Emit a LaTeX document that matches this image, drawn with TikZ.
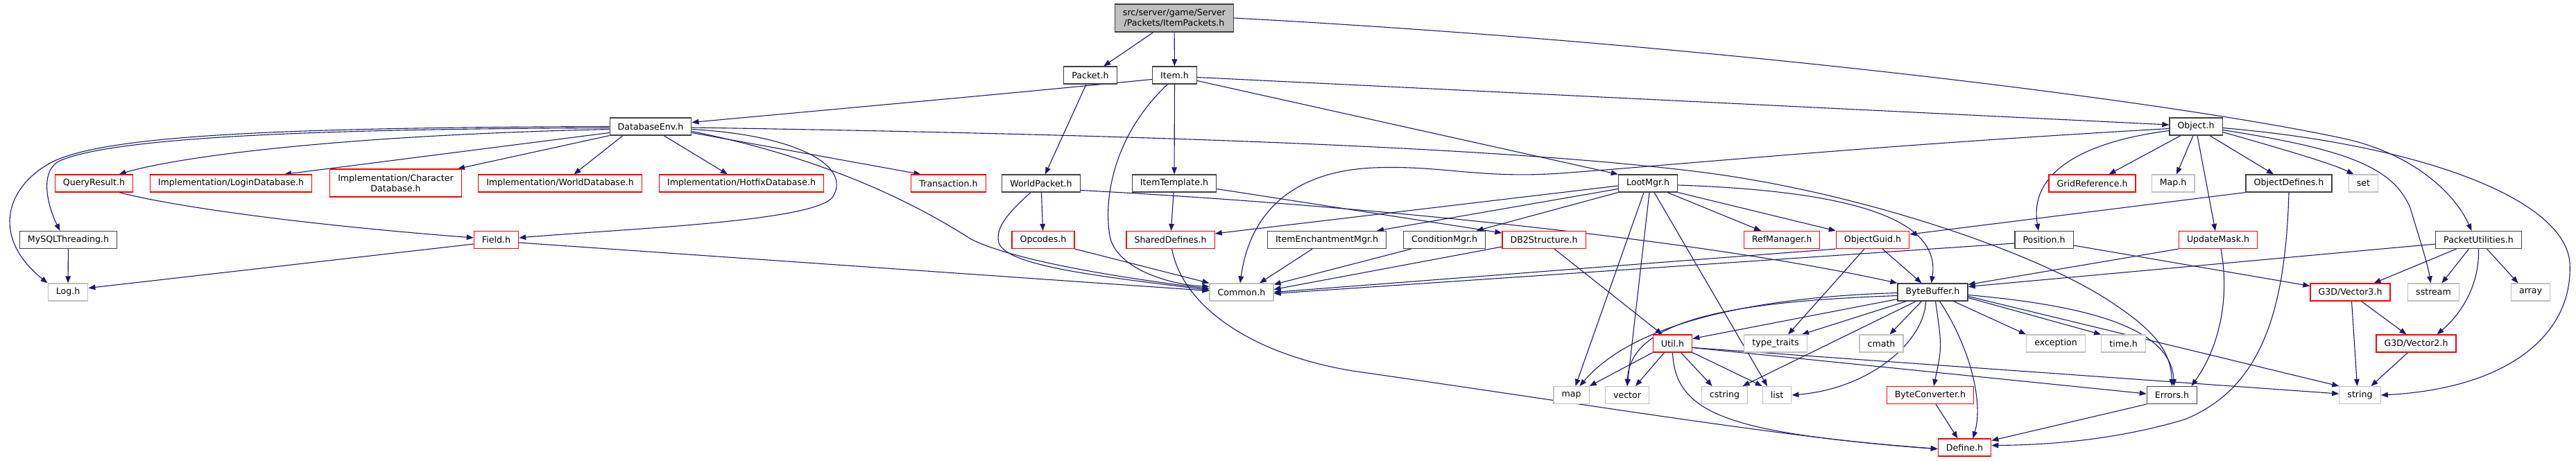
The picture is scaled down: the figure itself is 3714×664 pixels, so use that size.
\documentclass[tikz,border=0pt]{standalone}
\usepackage{fontspec}
\setmainfont{DejaVu Sans}
\usetikzlibrary{arrows.meta}
\definecolor{edgec}{HTML}{191970}
\definecolor{nblack}{HTML}{404040}
\definecolor{ngray}{HTML}{BFBFBF}
\definecolor{nred}{HTML}{FF0000}
\pgfdeclarelayer{edgelayer}
\pgfsetlayers{edgelayer,main}
\begin{document}
\begin{tikzpicture}[x=0.5pt,y=-0.5pt,
 base/.style={rectangle, draw, fill=white, line width=0.6pt, inner xsep=5.8pt, inner ysep=0pt, minimum height=12.5pt, font=\fontsize{6.3pt}{7.6pt}\selectfont, align=center, text=black},
 nb/.style={base, draw=nblack},
 nr/.style={base, draw=nred},
 ng/.style={base, draw=ngray},
 e/.style={draw=edgec, line width=0.55pt, -{Triangle[length=5pt,width=3.8pt]}},
]
\useasboundingbox (0,0) rectangle (3714,664);
% row 0-2
\node[nb,fill=ngray,minimum height=20pt] (top) at (1693,26) {src/server/game/Server\\/Packets/ItemPackets.h};
\node[nb] (packet) at (1572,108.5) {Packet.h};
\node[nb] (item) at (1693.5,108.5) {Item.h};
\node[nb] (dbenv) at (938,182.5) {DatabaseEnv.h};
\node[nb] (obj) at (3166,182.5) {Object.h};
% row 3
\node[nr] (qr) at (135.5,264.5) {QueryResult.h};
\node[nr] (login) at (333,264.5) {Implementation/LoginDatabase.h};
\node[nr,minimum height=20pt] (charac) at (570.5,264) {Implementation/Character\\Database.h};
\node[nr] (worlddb) at (807.5,264.5) {Implementation/WorldDatabase.h};
\node[nr] (hotfix) at (1069,264.5) {Implementation/HotfixDatabase.h};
\node[nr] (trans) at (1367.5,264.5) {Transaction.h};
\node[nb] (wp) at (1501,264.5) {WorldPacket.h};
\node[nb] (itpl) at (1693,264.5) {ItemTemplate.h};
\node[nb] (loot) at (2376,264.5) {LootMgr.h};
\node[nr] (gridref) at (3016.5,264.5) {GridReference.h};
\node[ng] (maph) at (3133,264.5) {Map.h};
\node[nb] (objdef) at (3300,264.5) {ObjectDefines.h};
\node[ng] (setn) at (3407.5,264.5) {set};
% row 4
\node[nb] (mysql) at (98.5,346) {MySQLThreading.h};
\node[nr] (field) at (715.5,346) {Field.h};
\node[nr] (opc) at (1504,346) {Opcodes.h};
\node[nr] (sd) at (1687.5,346) {SharedDefines.h};
\node[nb] (iem) at (1913,346) {ItemEnchantmentMgr.h};
\node[nb] (cond) at (2082.5,346) {ConditionMgr.h};
\node[nr] (db2) at (2226,346) {DB2Structure.h};
\node[nr] (ref) at (2569,346) {RefManager.h};
\node[nr] (og) at (2700,346) {ObjectGuid.h};
\node[nb] (pos) at (2947,346) {Position.h};
\node[nr] (um) at (3198,346) {UpdateMask.h};
\node[nb] (pu) at (3573.5,346) {PacketUtilities.h};
% row 5
\node[ng] (logh) at (98,421.5) {Log.h};
\node[ng] (common) at (1790,421.5) {Common.h};
\node[nb] (bb) at (2786.5,421.5) {ByteBuffer.h};
\node[nr] (vthree) at (3388.5,421.5) {G3D/Vector3.h};
\node[ng] (sstr) at (3508.5,421.5) {sstream};
\node[ng] (arr) at (3648.5,421.5) {array};
% row 6
\node[nr] (util) at (2411.5,495.5) {Util.h};
\node[ng] (tt) at (2560,495.5) {type\_traits};
\node[ng] (cmath) at (2712.5,495.5) {cmath};
\node[ng] (exc) at (2964,495.5) {exception};
\node[ng] (timeh) at (3061.5,495.5) {time.h};
\node[nr] (vtwo) at (3483.5,495.5) {G3D/Vector2.h};
% row 7
\node[ng] (mapn) at (2265.5,570) {map};
\node[ng] (vec) at (2346,570) {vector};
\node[ng] (cstr) at (2486.5,570) {cstring};
\node[ng] (listn) at (2562,570) {list};
\node[nr] (bconv) at (2783,570) {ByteConverter.h};
\node[nb] (errs) at (3131.5,570) {Errors.h};
\node[ng] (strn) at (3402.5,570) {string};
% row 8
\node[nr] (define) at (2832.5,645.5) {Define.h};

\begin{pgfonlayer}{edgelayer}
\draw[e] (top) -- (packet);
\draw[e] (top) -- (item);
\draw[e] (top.east) .. controls (2500,65) and (3150,150) .. (3380,200) .. controls (3480,222) and (3540,280) .. ([xshift=-5pt]pu.north);
\draw[e] (packet) -- (wp);
\draw[e] ([yshift=-3pt]item.west) .. controls (1450,135) .. ([yshift=3pt]dbenv.east);
\draw[e] ([yshift=-1.5pt]item.east) -- ([yshift=1.25pt]obj.west);
\draw[e] ([yshift=-4pt]item.east) -- (loot.north west);
\draw[e] (item) -- (itpl);
\draw[e] ([xshift=-5pt]item.south) .. controls (1610,190) and (1590,280) .. (1600,340) .. controls (1608,385) and (1680,410) .. ([yshift=4pt]common.west);
% DatabaseEnv
\draw[e] (dbenv.west) .. controls (400,184) and (140,195) .. (69,237) .. controls (5,275) and (-10,345) .. (logh.north west);
\draw[e] ([yshift=-1pt]dbenv.west) .. controls (420,186) and (160,200) .. (86,232) .. controls (55,248) and (70,300) .. ([xshift=-6pt]mysql.north);
\draw[e] ([yshift=-2pt]dbenv.west) .. controls (500,195) and (260,225) .. ([xshift=18pt]qr.north);
\draw[e] ([yshift=-4.5pt]dbenv.west) -- ([xshift=38.5pt]login.north);
\draw[e] (dbenv.south west) -- ([xshift=-3pt]charac.north east);
\draw[e] ([xshift=-20pt]dbenv.south) -- ([xshift=10pt]worlddb.north);
\draw[e] ([xshift=9.5pt]dbenv.south) -- ([xshift=-10pt]hotfix.north);
\draw[e] ([yshift=-4.5pt]dbenv.east) -- ([xshift=-20pt]trans.north);
\draw[e] ([yshift=-0.75pt]dbenv.east) .. controls (1700,195) and (2200,215) .. (2466,250) .. controls (2700,282) and (2950,370) .. (3050,440) .. controls (3110,480) and (3130,510) .. (errs.north);
\draw[e] ([yshift=-2pt]dbenv.east) .. controls (1150,195) and (1230,240) .. (1200,285) .. controls (1170,320) and (900,330) .. ([yshift=1.5pt]field.east);
\draw[e] ([yshift=-3.5pt]dbenv.east) .. controls (1200,230) and (1330,300) .. (1400,345) .. controls (1470,380) and (1650,405) .. ([yshift=2.5pt]common.west);
% row 3/4 left
\draw[e] ([xshift=18pt]qr.south) .. controls (260,300) and (450,325) .. ([yshift=1.5pt]field.west);
\draw[e] ([yshift=-3pt]field.west) -- ([yshift=3pt]logh.east);
\draw[e] ([yshift=-2pt]field.east) -- ([yshift=1pt]common.west);
\draw[e] (mysql) -- (logh);
\draw[e] (wp) -- (opc);
\draw[e] ([xshift=-7.5pt]wp.south) .. controls (1450,310) and (1435,330) .. (1440,350) .. controls (1450,385) and (1600,400) .. ([yshift=1.5pt]common.west);
\draw[e] ([yshift=-5pt]wp.east) .. controls (1950,295) and (2450,345) .. (bb.north west);
\draw[e] (itpl) -- (sd);
\draw[e] ([yshift=-4pt]itpl.east) -- ([yshift=5pt]db2.west);
\draw[e] (opc.south east) -- (common.north west);
\draw[e] ([xshift=1pt]sd.south) .. controls (1705,440) and (1800,510) .. (1950,535) .. controls (2300,585) and (2600,635) .. ([yshift=-1pt]define.west);
% LootMgr
\draw[e] ([yshift=-1.75pt]loot.west) -- ([yshift=4.5pt]sd.east);
\draw[e] ([yshift=-4pt]loot.west) -- ([xshift=36pt]iem.north);
\draw[e] (loot.south west) -- ([xshift=23pt]cond.north);
\draw[e] ([xshift=14pt]loot.south) -- ([xshift=-15pt]ref.north);
\draw[e] (loot.south east) -- (og.north west);
\draw[e] ([yshift=-1.25pt]loot.east) .. controls (2650,275) and (2800,310) .. ([xshift=-1pt]bb.north);
\draw[e] ([xshift=-3pt]loot.south) -- ([xshift=3pt]mapn.north);
\draw[e] ([xshift=1pt]loot.south) -- (vec.north);
\draw[e] ([xshift=4.5pt]loot.south) -- ([xshift=-7pt]listn.north);
% into Common
\draw[e] ([xshift=-10.5pt]iem.south) -- ([xshift=13pt]common.north);
\draw[e] ([xshift=-24pt]cond.south) -- ([yshift=-1pt]common.north east);
\draw[e] ([yshift=-5pt]db2.west) -- ([yshift=2pt]common.east);
\draw[e] ([xshift=7.5pt]db2.south) -- ([xshift=-7.5pt]util.north);
\draw[e] (og.south west) -- (common.east);
\draw[e] ([yshift=-2.5pt]pos.west) -- ([yshift=-1pt]common.east);
\draw[e] ([xshift=7pt]og.south) -- ([xshift=-8pt]bb.north);
\draw[e] ([xshift=-6pt]og.south) -- ([xshift=9pt]tt.north);
\draw[e] (objdef.south west) -- ([yshift=4pt]og.east);
\draw[e] (objdef.south) .. controls (3295,450) and (3260,560) .. (3150,605) .. controls (3050,635) and (2950,642) .. ([yshift=1.5pt]define.east);
% Object
\draw[e] ([xshift=-11pt]obj.south) -- ([xshift=12pt]gridref.north);
\draw[e] ([xshift=-2pt]obj.south) -- ([xshift=2.5pt]maph.north);
\draw[e] ([xshift=10pt]obj.south) -- ([xshift=-11pt]objdef.north);
\draw[e] ([yshift=-4pt]obj.east) .. controls (3290,215) and (3360,235) .. ([xshift=-7pt]setn.north);
\draw[e] ([yshift=-3pt]obj.west) .. controls (3000,205) and (2925,250) .. ([xshift=-4pt]pos.north);
\draw[e] ([xshift=1pt]obj.south) -- ([xshift=-2pt]um.north);
\draw[e] ([yshift=-2.5pt]obj.east) .. controls (3380,215) and (3450,240) .. (3475,300) .. controls (3490,350) and (3500,380) .. ([xshift=-2pt]sstr.north);
\draw[e] ([yshift=-1pt]obj.east) .. controls (3500,210) and (3700,290) .. (3705,380) .. controls (3710,480) and (3620,560) .. (strn.east);
\draw[e] ([yshift=-1.5pt]obj.west) .. controls (2700,210) and (2450,235) .. (2250,250) .. controls (2130,258) and (2080,238) .. (1980,242) .. controls (1850,248) and (1800,320) .. ([xshift=-1pt]common.north);
% Position, UpdateMask, PacketUtilities
\draw[e] ([yshift=-4pt]pos.east) -- ([yshift=4.5pt]vthree.west);
\draw[e] (um.south west) -- ([yshift=5.5pt]bb.east);
\draw[e] ([xshift=2pt]um.south) .. controls (3215,430) and (3200,500) .. ([xshift=14pt]errs.north);
\draw[e] ([yshift=-3pt]pu.west) -- ([yshift=4pt]bb.east);
\draw[e] ([xshift=-16pt]pu.south) -- ([xshift=17pt]vthree.north);
\draw[e] ([xshift=-7pt]pu.south) -- ([xshift=6pt]sstr.north);
\draw[e] ([xshift=6pt]pu.south) -- ([xshift=-9pt]arr.north);
\draw[e] (pu.south) .. controls (3575,420) and (3540,460) .. ([xshift=15pt]vtwo.north);
\draw[e] ([xshift=1pt]vthree.south) -- ([xshift=-2pt]strn.north);
\draw[e] ([xshift=8pt]vthree.south) -- ([xshift=-7pt]vtwo.north);
\draw[e] ([xshift=-6pt]vtwo.south) -- ([xshift=8pt]strn.north);
% ByteBuffer
\draw[e] ([xshift=-8pt]bb.south) -- ([xshift=6pt]cmath.north);
\draw[e] ([xshift=15pt]bb.south) -- (exc.north west);
\draw[e] ([yshift=-4pt]bb.east) -- (timeh.north west);
\draw[e] ([yshift=-2pt]bb.east) .. controls (3000,440) and (3130,470) .. ([xshift=1.5pt]errs.north);
\draw[e] ([yshift=-3pt]bb.east) -- (strn.north west);
\draw[e] ([xshift=2pt]bb.south) .. controls (2800,500) .. ([xshift=2.5pt]bconv.north);
\draw[e] ([xshift=5pt]bb.south) .. controls (2840,500) and (2860,580) .. ([xshift=6pt]define.north);
\draw[e] ([yshift=-5pt]bb.west) -- ([yshift=3.5pt]util.east);
\draw[e] ([xshift=-19pt]bb.south) -- ([xshift=-4pt]tt.north east);
\draw[e] ([xshift=-12pt]bb.south) -- ([xshift=13pt]cstr.north);
\draw[e] ([yshift=-0.5pt]bb.west) .. controls (2550,428) and (2360,460) .. ([xshift=6pt]mapn.north);
\draw[e] ([yshift=-2.5pt]bb.west) .. controls (2500,435) and (2350,460) .. (vec.north);
\draw[e] ([xshift=-5pt]bb.south) .. controls (2775,490) and (2700,560) .. (listn.east);
% Util
\draw[e] (util.south west) -- (mapn.north east);
\draw[e] ([xshift=-6pt]util.south) -- ([xshift=6pt]vec.north);
\draw[e] ([xshift=6pt]util.south) -- ([xshift=-9pt]cstr.north);
\draw[e] (util.south east) -- (listn.north west);
\draw[e] (util.south) .. controls (2415,600) and (2500,625) .. ([yshift=-1pt]define.west);
\draw[e] ([yshift=-3pt]util.east) -- ([yshift=1pt]errs.west);
\draw[e] ([yshift=-3pt]util.east) -- ([yshift=1pt]strn.west);
% bottom
\draw[e] ([xshift=4pt]bconv.south) -- ([xshift=-5pt]define.north);
\draw[e] (errs.south west) -- ([yshift=5pt]define.east);
\end{pgfonlayer}
\end{tikzpicture}
\end{document}
